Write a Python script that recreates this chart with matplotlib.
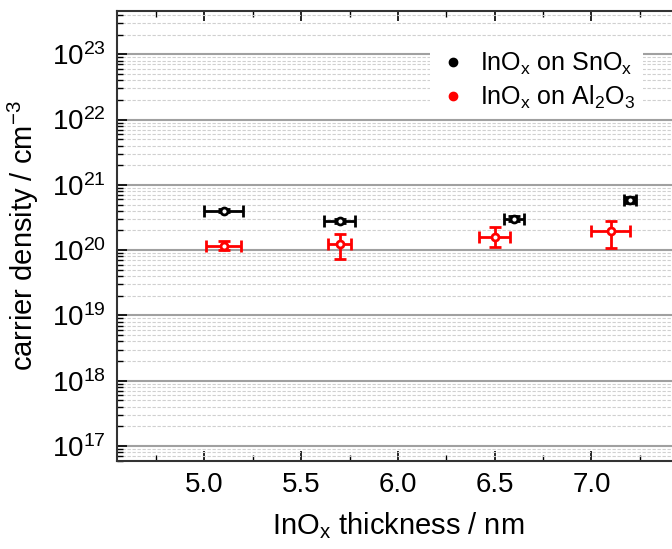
import matplotlib
matplotlib.use("Agg")
import matplotlib.pyplot as plt
import numpy as np
from matplotlib.lines import Line2D
from matplotlib.ticker import FixedLocator, LogLocator, MultipleLocator, NullFormatter

plt.rcParams['font.family'] = ['Liberation Sans', 'DejaVu Sans']
plt.rcParams['mathtext.fontset'] = 'custom'
plt.rcParams['mathtext.rm'] = 'Liberation Sans'
plt.rcParams['mathtext.it'] = 'Liberation Sans:italic'
plt.rcParams['mathtext.bf'] = 'Liberation Sans:bold'

# InOx on SnOx
sn_thick = [5.1, 5.7, 6.6, 7.2]
sn_thick_err = [0.1, 0.08, 0.05, 0.03]
sn_dens = [4.0e20, 2.8e20, 3.05e20, 5.8e20]
sn_dens_lo = [0.2e20, 0.2e20, 0.3e20, 0.6e20]
sn_dens_hi = [0.2e20, 0.2e20, 0.3e20, 0.7e20]

# InOx on Al2O3
al_thick = [5.1, 5.7, 6.5, 7.1]
al_thick_err = [0.09, 0.06, 0.08, 0.1]
al_dens = [1.17e20, 1.23e20, 1.6e20, 1.95e20]
al_dens_lo = [0.17e20, 0.5e20, 0.48e20, 0.87e20]
al_dens_hi = [0.2e20, 0.53e20, 0.64e20, 0.82e20]

labels = [r'InO$_\mathrm{x}$ on SnO$_\mathrm{x}$',
          r'InO$_\mathrm{x}$ on Al$_\mathrm{2}$O$_\mathrm{3}$']
colors = ['black', 'red']
y_decades = [1e17, 1e18, 1e19, 1e20, 1e21, 1e22, 1e23]
x_ticks = [5.0, 5.5, 6.0, 6.5, 7.0]

fig = plt.figure(figsize=(6.72, 5.49), dpi=100)
ax = fig.add_axes([0.1746, 0.1603, 0.835, 0.8197])

ax.errorbar(sn_thick, sn_dens, xerr=sn_thick_err, yerr=[sn_dens_lo, sn_dens_hi],
            fmt='o', color=colors[0], ms=5, mfc='white', mew=2, elinewidth=2,
            capsize=4, capthick=2, zorder=3)
ax.errorbar(al_thick, al_dens, xerr=al_thick_err, yerr=[al_dens_lo, al_dens_hi],
            fmt='o', color=colors[1], ms=5, mfc='white', mew=2, elinewidth=2,
            capsize=4, capthick=2, zorder=3)

ax.set_yscale('log')
ax.set_xlim(4.55, 7.45)
ax.set_ylim(5.9e16, 4.6e23)

ax.xaxis.set_major_locator(FixedLocator(x_ticks))
ax.xaxis.set_minor_locator(MultipleLocator(0.25))
ax.yaxis.set_major_locator(FixedLocator(y_decades))
ax.yaxis.set_minor_locator(LogLocator(base=10, subs=np.arange(2, 10), numticks=100))
ax.yaxis.set_minor_formatter(NullFormatter())

ax.grid(True, which='major', axis='y', color='#a0a0a0', lw=1.5, ls='-')
ax.grid(True, which='minor', axis='y', color='#d0d0d0', lw=0.8, ls=(0, (3, 1.5)))
ax.set_axisbelow(True)

ax.tick_params(which='both', direction='in', top=True, right=False, labelsize=20)
ax.tick_params(which='major', length=7, width=1.2, pad=8)
ax.tick_params(which='minor', length=4, width=1.0)
for s in ax.spines.values():
    s.set_linewidth(1.5)
    s.set_color('#333333')

ax.set_xlabel(r'InO$_\mathrm{x}$ thickness / nm', fontsize=21, labelpad=9)
ax.set_ylabel(r'carrier density / cm$^\mathrm{-3}$', fontsize=21, labelpad=8)

handles = [Line2D([], [], ls='none', marker='o', ms=6, color=c) for c in colors]
leg = ax.legend(handles, labels, loc='upper left', bbox_to_anchor=(0.535, 0.955),
                frameon=True, fontsize=18, handletextpad=0.5, borderpad=0.3,
                labelspacing=0.25, handlelength=1.2)
leg.get_frame().set_edgecolor('none')
leg.get_frame().set_facecolor('white')
leg.get_frame().set_alpha(1)

fig.savefig('out.png', dpi=100)
